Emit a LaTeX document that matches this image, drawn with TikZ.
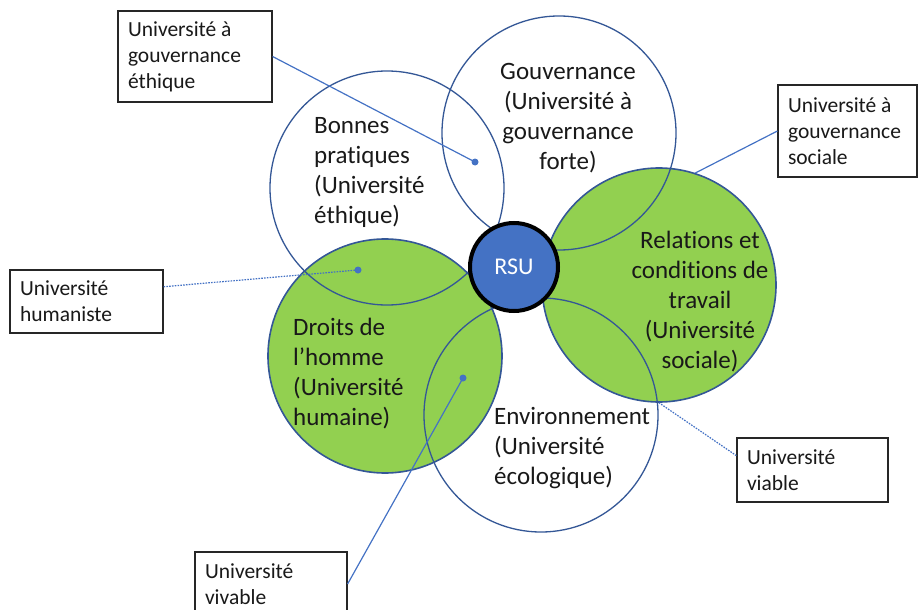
\documentclass[tikz,border=0pt]{standalone}
\usepackage{fontspec}
\setmainfont{Carlito}[RawFeature={-liga;-clig;-dlig;-calt;-hlig}]
\usetikzlibrary{calc}
\definecolor{circblue}{RGB}{52,87,150}
\definecolor{lineblue}{RGB}{68,114,196}
\definecolor{leafgreen}{RGB}{146,208,80}
\definecolor{rsublue}{RGB}{68,114,196}
\tikzset{
  petal/.style={circle, draw=circblue, line width=1.3pt, minimum size=234pt, inner sep=0pt},
  greenpetal/.style={petal, fill=leafgreen, line width=1.6pt},
  petaltext/.style={inner sep=0pt, font=\fontsize{25}{30}\selectfont, text=black!90},
  callbox/.style={draw=black!85, fill=white, line width=1.2pt, rectangle, inner xsep=10pt, inner ysep=0pt,
    align=flush left, font=\fontsize{21.5}{26}\selectfont, text=black!90},
  callline/.style={draw=lineblue, line width=1.2pt},
  dotline/.style={callline, dash pattern=on 1.6pt off 1.2pt},
  calldot/.style={circle, fill=lineblue, minimum size=7pt, inner sep=0pt},
}
\begin{document}
\begin{tikzpicture}[x=1pt,y=-1pt]
\useasboundingbox (0,0) rectangle (919,610);
% green petals
\node[greenpetal] (rel) at (659,285) {};
\node[greenpetal] (dro) at (385,356) {};
% white petals (outline only)
\node[petal] (bon) at (387,188) {};
\node[petal] (gou) at (559,133) {};
\node[petal] (env) at (541,415) {};
% centre
\node[circle, fill=rsublue, draw=black, line width=4pt, minimum size=88pt, inner sep=0pt,
  text=white, font=\fontsize{24}{28}\selectfont] (rsu) at (514,267) {RSU};
% petal texts
\node[petaltext, align=center] (tgou) at (568,118) {Gouvernance\\(Université à\\gouvernance\\forte)};
\node[petaltext, align=left, anchor=west] (tbon) at (314,172) {Bonnes\\pratiques\\(Université\\éthique)};
\node[petaltext, align=center] (trel) at (700,302) {Relations et\\conditions de\\travail\\(Université\\sociale)};
\node[petaltext, align=left, anchor=west] (tdro) at (293,374) {Droits de\\l’homme\\(Université\\humaine)};
\node[petaltext, align=left, anchor=west] (tenv) at (494,448) {Environnement\\(Université\\écologique)};
% callout boxes
\node[callbox, text width=134pt, minimum height=91pt] (eth) at (195,56.5) {Université à\\gouvernance\\éthique};
\node[callbox, text width=119pt, minimum height=92pt] (soc) at (847.5,131) {Université à\\gouvernance\\sociale};
\node[callbox, text width=133pt, minimum height=63pt] (hum) at (86.5,301.5) {Université\\humaniste};
\node[callbox, text width=131pt, minimum height=64pt] (via) at (812.5,470) {Université\\viable};
\node[callbox, text width=132pt, minimum height=64pt] (viv) at (271,584) {Université\\vivable};
% dots
\node[calldot] (deth) at (475,162) {};
\node[calldot] (dhum) at (358,270) {};
\node[calldot] (dviv) at (463,378) {};
% connectors
\draw[callline] (eth.east) -- (deth.center);
\draw[callline] (soc.west) -- (rel.72);
\draw[dotline] ($(hum.north east)!0.27!(hum.south east)$) -- (dhum.center);
\draw[callline] (viv.east) -- (dviv.center);
\draw[dotline] ($(via.north west)!0.28!(via.south west)$) -- (rel.270);
\end{tikzpicture}
\end{document}
